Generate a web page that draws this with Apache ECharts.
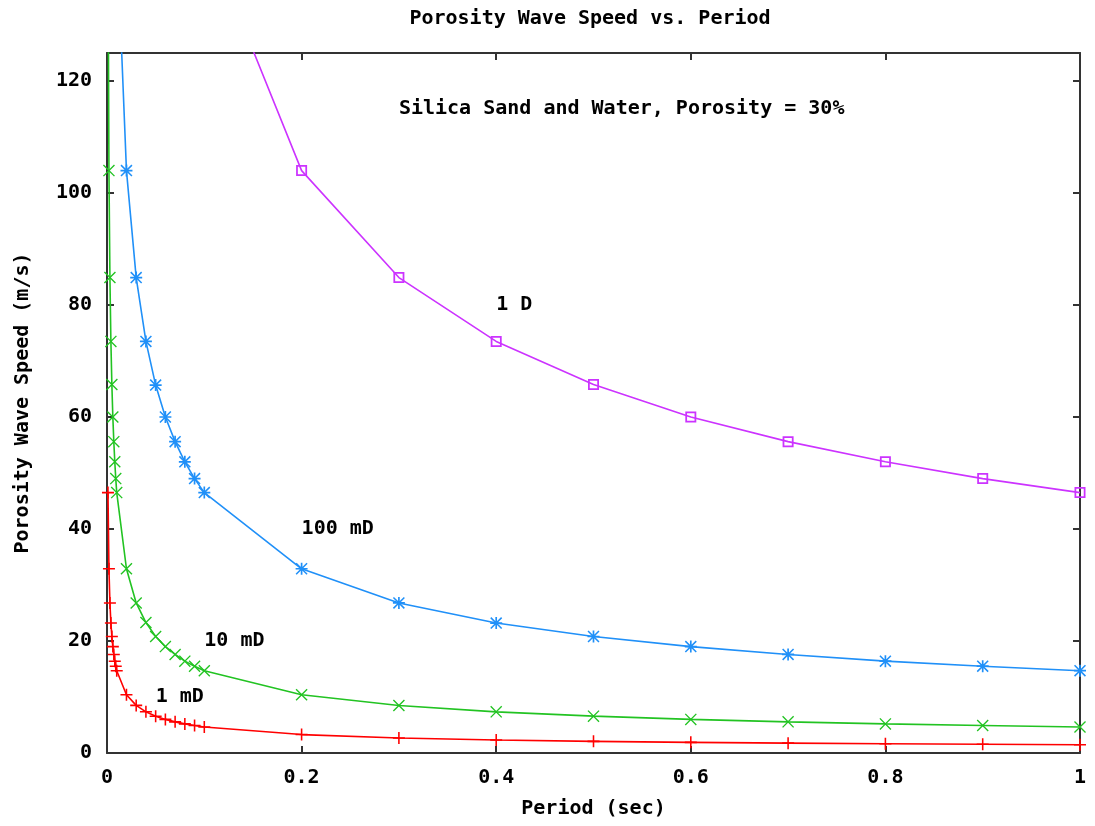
<!DOCTYPE html>
<html>
<head>
<meta charset="utf-8">
<script src="https://cdn.jsdelivr.net/npm/echarts@6/dist/echarts.min.js"></script>
<style>
html,body{margin:0;padding:0;background:#fff;}
#chart{width:1095px;height:826px;}
</style>
</head>
<body>
<div id="chart"></div>
<script>
// Period values (sec)
const periods = [0.001,0.002,0.003,0.004,0.005,0.006,0.007,0.008,0.009,
  0.01,0.02,0.03,0.04,0.05,0.06,0.07,0.08,0.09,
  0.1,0.2,0.3,0.4,0.5,0.6,0.7,0.8,0.9,1.0];

// Porosity wave speed (m/s) for each permeability
const speed1mD = [46.5,32.9,26.8,23.2,20.8,19.0,17.6,16.4,15.5,
  14.7,10.4,8.5,7.35,6.57,6.0,5.56,5.2,4.9,
  4.65,3.29,2.68,2.32,2.08,1.9,1.76,1.64,1.55,1.47];
const speed10mD = [147,104,84.9,73.5,65.8,60.0,55.6,52.0,49.0,
  46.5,32.9,26.8,23.3,20.8,19.0,17.6,16.4,15.5,
  14.7,10.4,8.49,7.35,6.58,6.0,5.56,5.2,4.9,4.65];
const speed100mD = [465,329,268,232,208,190,176,164,155,
  147,104,84.9,73.5,65.7,60.0,55.6,52.0,49.0,
  46.5,32.9,26.8,23.2,20.8,19.0,17.6,16.4,15.5,14.7];
const speed1D = [1470,1040,849,735,658,600,556,520,490,
  465,329,268,232,208,190,176,164,155,
  147,104,84.9,73.5,65.8,60.0,55.6,52.0,49.0,46.5];

const seriesNames = ['1 mD','10 mD','100 mD','1 D'];

// In-plot labels (text and data coordinates)
const labelTexts = ['Silica Sand and Water, Porosity = 30%','1 D','100 mD','10 mD','1 mD'];
const labelX = [0.3, 0.4, 0.2, 0.1, 0.05];
const labelY = [115, 80, 40, 20, 10];

const xTicks = [0,0.2,0.4,0.6,0.8,1];
const yTicks = [0,20,40,60,80,100,120];

const FONT = '"DejaVu Sans Mono","Liberation Mono",monospace';
const plusPath = 'path://M0,8.7H20V11.3H0Z M8.7,0H11.3V20H8.7Z';
const crossPath = 'path://M0,1.6L1.6,0L20,18.4L18.4,20Z M18.4,0L20,1.6L1.6,20L0,18.4Z';
const starPath = 'path://M0,8.6H20V11.4H0Z M8.6,0H11.4V20H8.6Z M0,1.8L1.8,0L20,18.2L18.2,20Z M18.2,0L20,1.8L1.8,20L0,18.2Z';
const squarePath = 'path://M0,0H20V20H0Z M3.2,3.2V16.8H16.8V3.2Z';

function pairs(ys){ return periods.map((x,i)=>[x, ys[i]]); }

function lineSeries(name, ys, color, symbol, size){
  return {
    name: name, type: 'line', data: pairs(ys),
    symbol: symbol, symbolSize: size, showAllSymbol: true,
    clip: true,
    itemStyle: {color: color},
    lineStyle: {color: color, width: 1.6},
    emphasis: {disabled: true},
    z: 3
  };
}

const chart = echarts.init(document.getElementById('chart'), null, {renderer: 'canvas'});
const axisTextStyle = {fontFamily: FONT, fontWeight: 'bold', fontSize: 20, color: '#000'};

chart.setOption({
  animation: false,
  backgroundColor: '#fff',
  grid: {left: 107, right: 15, top: 53, bottom: 73, containLabel: false},
  xAxis: [{
    type: 'value', min: 0, max: 1, interval: 0.2,
    name: 'Period (sec)', nameLocation: 'middle', nameGap: 46,
    nameTextStyle: axisTextStyle,
    axisLine: {show: true, onZero: false, lineStyle: {color: '#333', width: 2}},
    axisTick: {show: true, inside: true, length: 7, lineStyle: {color: '#333', width: 2}},
    axisLabel: {margin: 15, fontFamily: FONT, fontWeight: 'bold', fontSize: 20, color: '#000',
      formatter: v => xTicks.some(t => Math.abs(t - v) < 1e-9) ? String(+v.toFixed(1)) : ''},
    splitLine: {show: false}
  },{
    type: 'value', min: 0, max: 1, interval: 0.2, position: 'top',
    axisLine: {show: true, onZero: false, lineStyle: {color: '#333', width: 2}},
    axisTick: {show: true, inside: true, length: 7, lineStyle: {color: '#333', width: 2}},
    axisLabel: {show: false}, splitLine: {show: false}
  }],
  yAxis: [{
    type: 'value', min: 0, max: 125, interval: 20,
    name: 'Porosity Wave Speed (m/s)', nameLocation: 'middle', nameGap: 74,
    nameTextStyle: axisTextStyle,
    axisLine: {show: true, onZero: false, lineStyle: {color: '#333', width: 2}},
    axisTick: {show: true, inside: true, length: 7, lineStyle: {color: '#333', width: 2}},
    axisLabel: {margin: 15, fontFamily: FONT, fontWeight: 'bold', fontSize: 20, color: '#000', showMaxLabel: false,
      formatter: v => yTicks.indexOf(v) >= 0 ? String(v) : ''},
    splitLine: {show: false}
  },{
    type: 'value', min: 0, max: 125, interval: 20, position: 'right',
    axisLine: {show: true, onZero: false, lineStyle: {color: '#333', width: 2}},
    axisTick: {show: true, inside: true, length: 7, lineStyle: {color: '#333', width: 2}},
    axisLabel: {show: false}, splitLine: {show: false}
  }],
  series: [
    lineSeries(seriesNames[0], speed1mD, '#ff0000', plusPath, 12),
    lineSeries(seriesNames[1], speed10mD, '#22c322', crossPath, 12),
    lineSeries(seriesNames[2], speed100mD, '#2090f8', starPath, 12),
    lineSeries(seriesNames[3], speed1D, '#cc33ff', squarePath, 11)
  ]
});

const textEls = [{
  type: 'text', x: 590, y: 19,
  style: {text: 'Porosity Wave Speed vs. Period', textAlign: 'center', textVerticalAlign: 'middle',
    fontFamily: FONT, fontWeight: 'bold', fontSize: 20, fill: '#000'}
}];
labelTexts.forEach((t, i) => {
  const p = chart.convertToPixel({xAxisIndex: 0, yAxisIndex: 0}, [labelX[i], labelY[i]]);
  textEls.push({
    type: 'text', x: p[0], y: p[1], z: 10,
    style: {text: t, textAlign: 'left', textVerticalAlign: 'middle',
      fontFamily: FONT, fontWeight: 'bold', fontSize: 20, fill: '#000'}
  });
});
chart.setOption({graphic: textEls});
</script>
</body>
</html>
